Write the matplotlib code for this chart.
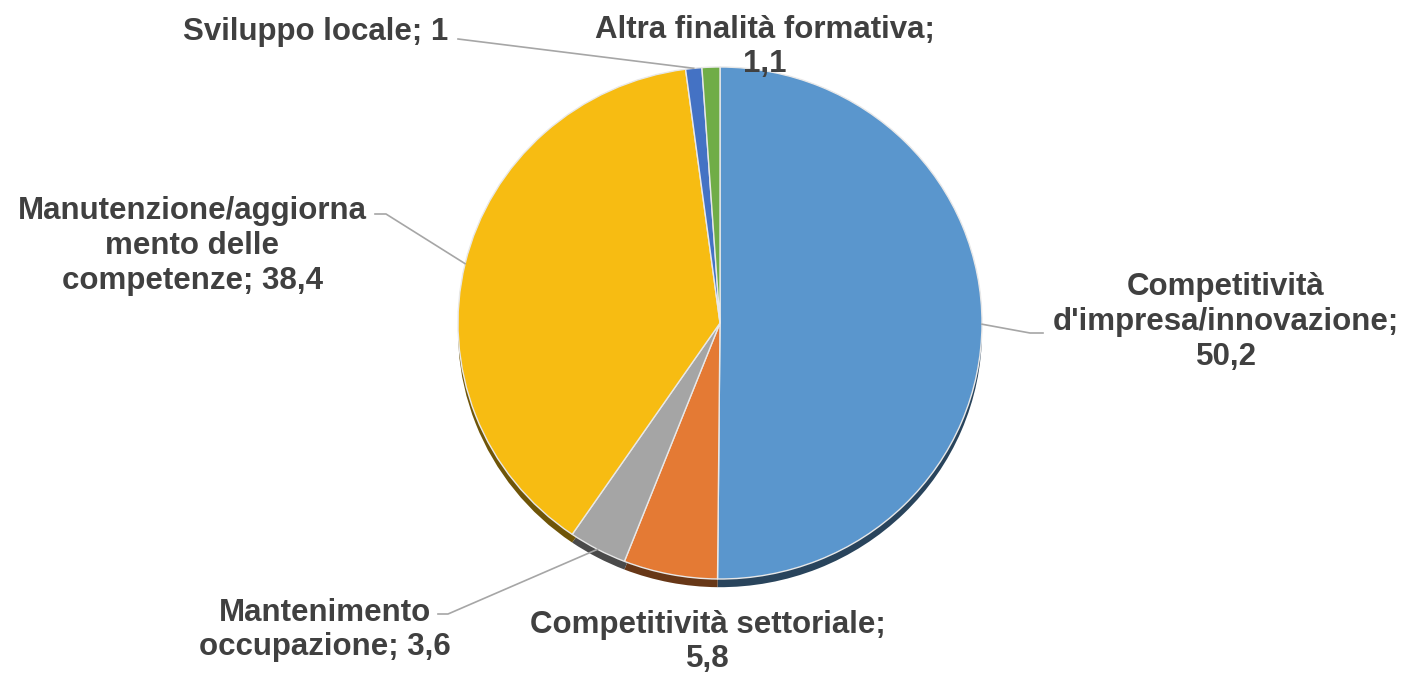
import numpy as np
import matplotlib.pyplot as plt
from matplotlib.colors import to_rgb

# Dati
categorie = ["Competitività\nd'impresa/innovazione;\n50,2",
             "Competitività settoriale;\n5,8",
             "Mantenimento\noccupazione; 3,6",
             "Manutenzione/aggiorna\nmento delle\ncompetenze; 38,4",
             "Sviluppo locale; 1",
             "Altra finalità formativa;\n1,1"]
valori = [50.2, 5.8, 3.6, 38.4, 1.0, 1.1]
colori = ["#5A96CD", "#E47A34", "#A5A5A5", "#F7BC12", "#4472C4", "#70AD47"]

W, H = 1409, 675
fig = plt.figure(figsize=(W / 100, H / 100), dpi=100)

# pie axes: ellisse rx=262, ry=256 centrata in (720, 323) (pixel, dall'alto)
cx, cy, rx, ry = 720, 323, 262, 256
ax = fig.add_axes([(cx - rx) / W, (H - cy - ry) / H, 2 * rx / W, 2 * ry / H])

# ombra / spessore 3D
scuri = [tuple(c * 0.45 for c in to_rgb(col)) for col in colori]
ax.pie(valori, colors=scuri, startangle=90, counterclock=False,
       radius=1.0, center=(0, -0.032), wedgeprops=dict(linewidth=0))
wedges, _ = ax.pie(valori, colors=colori, startangle=90, counterclock=False,
                   radius=1.0, wedgeprops=dict(edgecolor="#E8E8E8", linewidth=1.0))
ax.set_aspect("auto")
ax.set_xlim(-1, 1)
ax.set_ylim(-1, 1)
ax.axis("off")

# overlay in pixel (y verso il basso)
ov = fig.add_axes([0, 0, 1, 1], zorder=5)
ov.set_xlim(0, W)
ov.set_ylim(H, 0)
ov.axis("off")

def ancora(w):
    a = np.deg2rad((w.theta1 + w.theta2) / 2)
    px, py = ax.transData.transform((np.cos(a), np.sin(a)))
    return px, H - py

testo = dict(ha="center", va="center", fontsize=22.5, fontweight="bold",
             color="#404040", family="Liberation Sans", linespacing=1.2)

pos_label = [(1226, 322), (708, 642), (325, 630), (192, 246), (316, 32), (765, 47)]
# gomiti delle linee guida: (punto lato etichetta, punto intermedio)
gomiti = [[(1043, 333), (1030, 333)],
          None,
          [(438, 614), (448, 614)],
          [(375, 214), (386, 214)],
          [(458, 39)],
          None]

for w, lab, (lx, ly), g in zip(wedges, categorie, pos_label, gomiti):
    ov.text(lx, ly, lab, **testo)
    if g is not None:
        ax_x, ax_y = ancora(w)
        xs = [p[0] for p in g] + [ax_x]
        ys = [p[1] for p in g] + [ax_y]
        ov.plot(xs, ys, color="#A6A6A6", linewidth=1.2)

fig.savefig("out.png", dpi=100)
